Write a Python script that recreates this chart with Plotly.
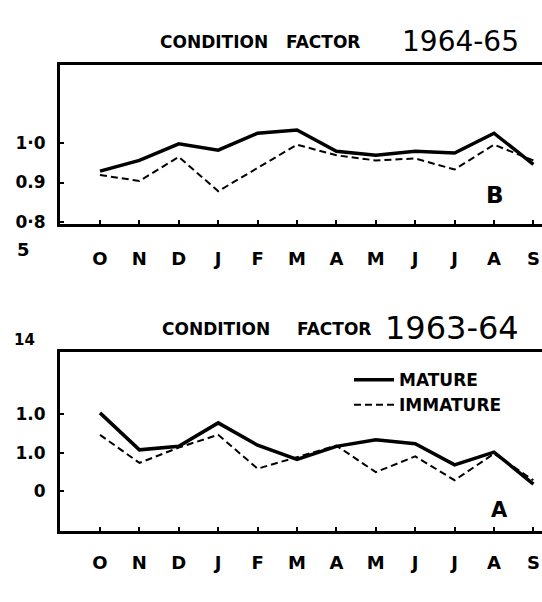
import plotly.graph_objects as go

months = ["O", "N", "D", "J", "F", "M", "A", "M", "J", "J", "A", "S"]
x_idx = list(range(len(months)))

# Panel B: condition factor 1964-65
mature_6465 = [0.929, 0.956, 0.998, 0.982, 1.025, 1.033, 0.979, 0.969, 0.979, 0.975, 1.025, 0.946]
immature_6465 = [0.919, 0.904, 0.965, 0.878, 0.937, 0.996, 0.969, 0.956, 0.961, 0.933, 0.996, 0.956]

# Panel A: condition factor 1963-64
mature_6364 = [1.104, 1.008, 1.017, 1.078, 1.020, 0.983, 1.017, 1.034, 1.024, 0.969, 1.002, 0.919]
immature_6364 = [1.047, 0.974, 1.014, 1.047, 0.959, 0.989, 1.019, 0.950, 0.991, 0.929, 0.998, 0.929]

top_tickvals = [1.0, 0.9, 0.8]
top_ticktext = ["1·0", "0.9", "0·8"]
bot_tickvals = [1.1, 1.0, 0.9]
bot_ticktext = ["1.0", "1.0", "0"]

FONT = "DejaVu Sans"
W, H = 542, 602
DASH = "7px,4px"

fig = go.Figure()

fig.add_trace(go.Scatter(x=x_idx, y=mature_6465, mode="lines", name="MATURE",
                         line=dict(color="black", width=3.5), xaxis="x", yaxis="y",
                         showlegend=False))
fig.add_trace(go.Scatter(x=x_idx, y=immature_6465, mode="lines", name="IMMATURE",
                         line=dict(color="black", width=2, dash=DASH), xaxis="x", yaxis="y",
                         showlegend=False))
fig.add_trace(go.Scatter(x=x_idx, y=mature_6364, mode="lines", name="MATURE",
                         line=dict(color="black", width=3.5), xaxis="x2", yaxis="y2"))
fig.add_trace(go.Scatter(x=x_idx, y=immature_6364, mode="lines", name="IMMATURE",
                         line=dict(color="black", width=2, dash=DASH), xaxis="x2", yaxis="y2"))

X0, DX = 100.0, 39.4   # pixel position of first month and month spacing
xdom = [60 / W, 1.0]
xr = [-(X0 - 60) / DX, (W - X0) / DX]

def xaxis_cfg(anchor, standoff):
    return dict(domain=xdom, range=xr, anchor=anchor, tickvals=x_idx, ticktext=months,
                showline=True, linecolor="black", linewidth=3, mirror=True,
                ticks="inside", ticklen=4, tickcolor="black", tickwidth=2,
                showgrid=False, zeroline=False, ticklabelstandoff=standoff,
                tickfont=dict(family=FONT, size=18, color="black", weight="bold"))

def yaxis_cfg(anchor, dom, rng, tv, tt):
    return dict(domain=dom, range=rng, anchor=anchor, tickvals=tv, ticktext=tt,
                showline=True, linecolor="black", linewidth=3, mirror=False,
                ticks="inside", ticklen=4, tickcolor="black", tickwidth=2,
                showgrid=False, zeroline=False, ticklabelstandoff=8,
                tickfont=dict(family=FONT, size=17, color="black", weight="bold"))

fig.update_layout(
    width=W, height=H,
    margin=dict(l=0, r=0, t=0, b=0),
    paper_bgcolor="white", plot_bgcolor="white",
    xaxis=xaxis_cfg("y", 17),
    yaxis=yaxis_cfg("x", [1 - 226.7 / H, 1 - 66 / H], [1.0 - 81.7 / 400, 1.0 + 79 / 400],
                    top_tickvals, top_ticktext),
    xaxis2=xaxis_cfg("y2", 14),
    yaxis2=yaxis_cfg("x2", [1 - 538 / H, 1 - 357 / H], [1.0 - 79 / 390, 1.0 + 102 / 390],
                     bot_tickvals, bot_ticktext),
    legend=dict(x=349 / W, y=1 - 367 / H, xanchor="left", yanchor="top",
                bgcolor="rgba(0,0,0,0)", itemwidth=40, tracegroupgap=0,
                font=dict(family=FONT, size=17, color="black", weight="bold")),
    showlegend=True,
)

def ann(text, xpx, ypx, size, bold=True, xanchor="center"):
    fig.add_annotation(text=text, x=xpx / W, y=1 - ypx / H, xref="paper", yref="paper",
                       showarrow=False, xanchor=xanchor, yanchor="middle",
                       font=dict(family=FONT, size=size, color="black",
                                 weight="bold" if bold else "normal"))

ann("CONDITION", 158, 43, 17, xanchor="left")
ann("FACTOR", 284, 43, 17, xanchor="left")
ann("1964-65", 400, 42, 28, bold=False, xanchor="left")
ann("CONDITION", 160, 333, 17, xanchor="left")
ann("FACTOR", 295, 333, 17, xanchor="left")
ann("1963-64", 383, 332, 32, bold=False, xanchor="left")

ann("B", 495, 198, 23)
ann("A", 499, 517, 21)
ann("5", 23, 253, 18)
ann("14", 24, 345, 15)

fig.write_html("out.html", post_script="document.body.style.margin='0px';",
               config={"displayModeBar": False})
